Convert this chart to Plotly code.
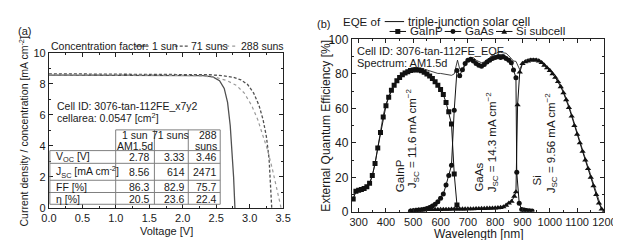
import plotly.graph_objects as go

W, H = 621, 240
def PX(x): return x / W
def PY(y): return 1 - y / H

# ---------------- Panel (a): J-V curves (current density / concentration) ----------------
v_1sun = [0.0, 1.0, 2.0, 2.3, 2.45, 2.55, 2.62, 2.67, 2.71, 2.74, 2.76, 2.78]
j_1sun = [8.56, 8.56, 8.54, 8.52, 8.44, 8.2, 7.7, 6.8, 5.3, 3.6, 2.0, 0.0]
v_71 = [0.0, 1.0, 2.0, 2.4, 2.6, 2.75, 2.87, 2.97, 3.06, 3.14, 3.2, 3.25, 3.29, 3.31, 3.33]
j_71 = [8.64, 8.63, 8.61, 8.58, 8.52, 8.42, 8.25, 7.95, 7.4, 6.6, 5.7, 4.6, 3.2, 1.8, 0.0]
v_288 = [0.0, 1.0, 2.0, 2.3, 2.5, 2.65, 2.8, 2.92, 3.03, 3.12, 3.2, 3.27, 3.34, 3.41, 3.47]
j_288 = [8.58, 8.57, 8.54, 8.5, 8.4, 8.22, 7.9, 7.4, 6.6, 5.7, 4.7, 3.7, 2.5, 1.2, 0.0]

table_rows = ["V<sub>OC</sub> [V]", "J<sub>SC</sub> [mA cm<sup>-2</sup>]", "FF [%]", "η [%]"]
table_vals = [["2.78", "3.33", "3.46"],
              ["8.56", "614", "2471"],
              ["86.3", "82.9", "75.7"],
              ["20.5", "23.6", "22.4"]]

# ---------------- Panel (b): EQE ----------------
wl_gainp = [280, 290, 300, 310, 320, 330, 340, 350, 360, 370, 380, 390, 400, 410, 420, 430, 440, 450,
            460, 470, 480, 490, 500, 510, 520, 530, 540, 550, 560, 570, 580, 590, 600, 610, 620, 630,
            640, 650, 660]
eqe_gainp = [7.5, 12, 12.5, 13, 13.5, 14.5, 16.5, 21, 28, 37, 46, 55, 61.5, 66.5, 70.5, 73.5, 76, 78,
             79.5, 80.5, 81.3, 82, 82.3, 82.5, 82.3, 81.8, 81, 80, 78.8, 77.3, 75.5, 73.5, 71, 68, 63.5, 58,
             51, 22, 4]

wl_gaas = [490, 500, 510, 520, 530, 540, 550, 560, 570, 580, 590, 600, 610, 620, 630, 640, 650, 660,
           670, 680, 690, 700, 710, 720, 730, 740, 750, 760, 770, 780, 790, 800, 810, 820, 830, 840,
           850, 859, 867, 876, 879, 888, 897, 906, 915, 925, 935]
eqe_gaas = [0.5, 0.6, 0.8, 1.0, 1.2, 1.5, 1.9, 2.5, 3.3, 4.4, 5.9, 7.8, 10.3, 15.5, 21, 27, 59, 82,
            79, 82.5, 86, 88, 88.5, 87.5, 86, 85, 84.5, 85.5, 87, 88, 89, 89.5, 90, 89.5, 90, 89,
            88, 86.5, 82.3, 77.8, 23, 5, 1.3, 1.0, 0.8, 0.6, 0.5]

wl_si = [490, 500, 510, 520, 530, 540, 550, 560, 570, 580, 590, 600, 610, 620, 630, 640, 650, 660,
         670, 680, 690, 700, 710, 720, 730, 740, 750, 760, 770, 780, 790, 800, 810, 820, 830, 840,
         850, 860, 870, 876, 882, 890, 900, 910, 920, 930, 940, 950, 960, 970, 980, 990, 1000, 1010,
         1020, 1030, 1040, 1050, 1060, 1070, 1080, 1090, 1100, 1110, 1120, 1130, 1140, 1150, 1160,
         1170, 1180, 1190, 1200]
eqe_si = [0.5, 0.8, 1.0, 1.0, 1.1, 1.1, 1.2, 1.2, 1.2, 1.3, 1.3, 1.3, 1.4, 1.4, 1.4, 1.5, 1.5, 1.5,
          1.6, 1.6, 1.6, 1.7, 1.7, 1.7, 1.8, 1.8, 1.9, 1.9, 2.0, 2.0, 2.1, 2.2, 2.3, 2.5, 2.8, 3.8,
          5.0, 6.0, 9.0, 11.5, 62, 81, 86, 87, 87.5, 88, 88, 88, 87.5, 86.5, 85, 83.5, 82, 80,
          78, 75.5, 72.5, 69, 65, 60.5, 55.5, 50, 45, 40, 35, 30, 25, 20, 15,
          10, 5, 1.5, 0.3]

wl_total = [280, 290, 300, 310, 320, 330, 340, 350, 360, 370, 380, 390, 400, 410, 420, 430, 440, 450,
            460, 470, 480, 490, 500, 510, 520, 530, 540, 550, 560, 570, 580, 590, 600, 610, 620, 630,
            640, 650, 655, 662, 670, 680, 690, 700, 710, 720, 730, 740, 750, 760, 770, 780, 790, 800,
            810, 820, 830, 840, 850, 859, 867, 876, 882, 890, 900, 910, 920, 930, 940, 950, 960, 970,
            980, 990, 1000, 1010, 1020, 1030, 1040, 1050, 1060, 1070, 1080, 1090, 1100, 1110, 1120,
            1130, 1140, 1150, 1160, 1170, 1180, 1190, 1200]
eqe_total = [7.5, 12, 12.5, 13, 13.5, 14.5, 16.5, 21, 28, 37, 46.5, 56, 62.5, 67, 71, 74, 76.5, 78.5,
             80, 81.3, 82.3, 83, 83.5, 83.5, 83.5, 83.2, 82.8, 82.3, 81.6, 81, 80.5, 80.3, 80.3, 80, 80, 79.5,
             79.2, 80, 84, 88, 83, 81.5, 85, 88.5, 89.5, 89.5, 88, 87, 86.5, 87, 88, 89.5, 91, 92,
             92.5, 92.5, 92.3, 92, 90.5, 89, 87.5, 87.3, 85, 82.5, 86.5, 88, 88.5, 89, 89, 88.8, 88.5, 87.5,
             86, 84.5, 83, 81, 79, 76.5, 73.5, 70, 66, 61.5, 56.5, 51, 46, 41, 36,
             31, 26, 21, 16, 11, 5.5, 1.8, 0.5]

fig = go.Figure()

# panel (a) traces
fig.add_trace(go.Scatter(x=v_1sun, y=j_1sun, mode="lines", xaxis="x", yaxis="y",
                         line=dict(color="#505050", width=1.3)))
fig.add_trace(go.Scatter(x=v_71, y=j_71, mode="lines", xaxis="x", yaxis="y",
                         line=dict(color="#505050", width=1.3, dash="3px,2px")))
fig.add_trace(go.Scatter(x=v_288, y=j_288, mode="lines", xaxis="x", yaxis="y",
                         line=dict(color="#9a9a9a", width=1.2, dash="dot")))

# panel (b) traces
fig.add_trace(go.Scatter(x=wl_total, y=eqe_total, mode="lines", xaxis="x2", yaxis="y2",
                         line=dict(color="#111", width=0.8)))
fig.add_trace(go.Scatter(x=wl_gainp, y=eqe_gainp, mode="lines+markers", xaxis="x2", yaxis="y2",
                         line=dict(color="#111", width=1), marker=dict(symbol="square", size=5, color="#111")))
fig.add_trace(go.Scatter(x=wl_gaas, y=eqe_gaas, mode="lines+markers", xaxis="x2", yaxis="y2",
                         line=dict(color="#111", width=1), marker=dict(symbol="circle", size=5, color="#111")))
fig.add_trace(go.Scatter(x=wl_si, y=eqe_si, mode="lines+markers", xaxis="x2", yaxis="y2",
                         line=dict(color="#111", width=1), marker=dict(symbol="triangle-up", size=5.5, color="#111")))

FONT = "Liberation Sans, Arial, sans-serif"
axis_common = dict(showline=True, linecolor="#222", linewidth=1, mirror="allticks", ticks="inside",
                   ticklen=4, tickwidth=1, tickcolor="#222", showgrid=False, zeroline=False, tickangle=0)

fig.update_layout(
    width=W, height=H, margin=dict(l=0, r=0, t=0, b=0), showlegend=False,
    paper_bgcolor="white", plot_bgcolor="white",
    font=dict(family=FONT, color="#1a1a1a", size=11),
    xaxis=dict(domain=[PX(34), PX(276)], range=[0, 3.5], dtick=0.5, tickformat=".1f",
               minor=dict(ticks="inside", ticklen=2, dtick=0.25, tickcolor="#222"),
               anchor="y", tickfont=dict(size=11), **axis_common),
    yaxis=dict(domain=[PY(205), PY(40)], range=[0, 10], dtick=2,
               minor=dict(ticks="inside", ticklen=2, dtick=1, tickcolor="#222"),
               anchor="x", tickfont=dict(size=11), **axis_common),
    xaxis2=dict(domain=[PX(347), PX(608)], range=[275, 1200], dtick=100, tick0=300,
                minor=dict(ticks="inside", ticklen=2, dtick=50, tickcolor="#222"),
                anchor="y2", tickfont=dict(size=11), **axis_common),
    yaxis2=dict(domain=[PY(209), PY(26)], range=[0, 100], dtick=20,
                minor=dict(ticks="inside", ticklen=2, dtick=10, tickcolor="#222"),
                anchor="x2", tickfont=dict(size=12), **axis_common),
)

ann = []
def text(x, y, s, size=11, xa="left", ya="middle", angle=0):
    ann.append(dict(x=PX(x), y=PY(y), xref="paper", yref="paper", text=s, showarrow=False,
                    xanchor=xa, yanchor=ya, textangle=angle, borderpad=0,
                    font=dict(size=size, family=FONT, color="#1a1a1a")))

shapes = []
def line(x0, y0, x1, y1, color="#222", width=1, dash="solid"):
    shapes.append(dict(type="line", xref="paper", yref="paper", x0=PX(x0), y0=PY(y0), x1=PX(x1), y1=PY(y1),
                       line=dict(color=color, width=width, dash=dash)))

# ---- Panel (a) texts ----
text(1, 17, "(a)", 11)
text(8, 124, "Current density / concentration [mA cm<sup>-2</sup>]", 10.5, xa="center", angle=-90)
text(155, 229, "Voltage [V]", 11, xa="center")
text(35, 33, "Concentration factor:", 10.5)
line(123, 33, 137, 33, "#505050", 1.3)
text(139, 33, "1 sun", 10.5)
line(164, 33, 178, 33, "#505050", 1.3, "3px,2px")
text(180, 33, "71 suns", 10.5)
line(211, 33, 229, 33, "#9a9a9a", 1.2, "dot")
text(231, 33, "288 suns", 10.5)
text(41, 97, "Cell ID: 3076-tan-112FE_x7y2", 10.5)
text(41, 109, "cellarea: 0.0547 [cm<sup>2</sup>]", 10.5)

# table grid
tc = "#808080"
for xv in [103, 143, 178, 211]:
    line(xv, 122, xv, 201, tc)
line(35, 144, 35, 201, tc)
line(103, 122, 211, 122, tc)
for yv in [144, 157.5, 175.5, 188.5, 201]:
    line(35, yv, 211, yv, tc)
text(123, 127, "1 sun", 10.5, xa="center")
text(123, 139, "AM1.5d", 10.5, xa="center")
text(160, 127, "71 suns", 10.5, xa="center")
text(209, 127, "288", 10.5, xa="right")
text(209, 139, "suns", 10.5, xa="right")
row_y = [151, 167, 182.5, 195]
col_right = [140, 175.5, 209]
for r, lbl in enumerate(table_rows):
    text(40, row_y[r], lbl, 10.5)
    for c in range(3):
        text(col_right[c], row_y[r], table_vals[r][c], 10.5, xa="right")

# ---- Panel (b) texts ----
text(310, 10, "(b)", 11)
text(320, 118, "External Quantum Efficiency [%]", 12, xa="center", angle=-90)
text(478, 233, "Wavelength [nm]", 12, xa="center")
text(337, 7, "EQE of", 11.5)
line(381, 7, 401, 7, "#111", 1)
text(404, 7, "triple-junction solar cell", 12)

def marker_sample(x0, kind, w=17, cy=17.5):
    line(x0, cy, x0 + w, cy, "#111", 1)
    cx, s = x0 + w / 2, 2.6
    if kind == "square":
        shapes.append(dict(type="rect", xref="paper", yref="paper", x0=PX(cx - s), x1=PX(cx + s),
                           y0=PY(cy + s), y1=PY(cy - s), fillcolor="#111", line=dict(width=0)))
    elif kind == "circle":
        shapes.append(dict(type="circle", xref="paper", yref="paper", x0=PX(cx - s), x1=PX(cx + s),
                           y0=PY(cy + s), y1=PY(cy - s), fillcolor="#111", line=dict(width=0)))
    else:
        path = "M {} {} L {} {} L {} {} Z".format(PX(cx - 3), PY(cy + 2.5), PX(cx + 3), PY(cy + 2.5), PX(cx), PY(cy - 3))
        shapes.append(dict(type="path", xref="paper", yref="paper", path=path, fillcolor="#111", line=dict(width=0)))

marker_sample(386, "square")
text(406, 17.5, "GaInP", 11.5)
marker_sample(443, "circle")
text(463, 17.5, "GaAs", 11.5)
marker_sample(496, "triangle")
text(516, 17.5, "Si subcell", 11.5)

text(351, 38.5, "Cell ID: 3076-tan-112FE_EQE", 11)
text(351, 51, "Spectrum: AM1.5d", 11)

text(397, 171, "GaInP", 11.5, xa="center", angle=-90)
text(410, 131, "J<sub>SC</sub> = 11.6 mA cm<sup>−2</sup>", 11.5, xa="center", angle=-90)
text(478, 172, "GaAs", 11.5, xa="center", angle=-90)
text(492, 135, "J<sub>SC</sub> = 14.3 mA cm<sup>−2</sup>", 11.5, xa="center", angle=-90)
text(538, 176, "Si", 11.5, xa="center", angle=-90)
text(553, 136, "J<sub>SC</sub> = 9.56 mA cm<sup>−2</sup>", 11.5, xa="center", angle=-90)

fig.update_layout(annotations=ann, shapes=shapes)
fig.write_html("out.html")
